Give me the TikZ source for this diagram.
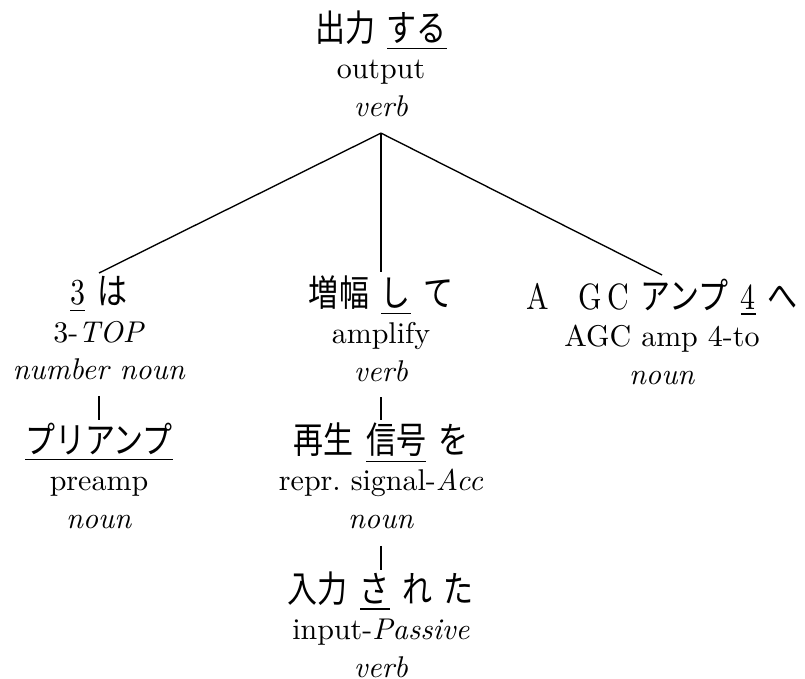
\documentclass[tikz,border=0pt]{standalone}
\usepackage{graphicx}
\usepackage{fontspec}
\newfontfamily\jp{Noto Sans CJK JP}
\newcommand{\js}{\hspace{0.4em}}
\newcommand{\tall}[1]{\scalebox{1}[1.22]{#1}}

\begin{document}
\begin{tikzpicture}[x=0.3333pt, y=-0.3333pt,
    word/.style={align=center, inner sep=0pt, anchor=north,
                 font=\fontsize{10}{12.5}\selectfont},
    arc/.style={line width=0.45pt}]
    \useasboundingbox (0,0) rectangle (805,679);

    \node[word] (shuturyoku) at (381,10) {\tall{\jp 出力\js\underline{する}}\\ output\\ \textit{verb}};

    \node[word] (sanha) at (99,276) {\tall{\underline{3}\js{\jp は}}\\ 3-\textit{TOP}\\ \textit{number noun}};
    \node[word] (zoufuku) at (381,275) {\tall{\jp 増幅\js\underline{し}\js て}\\ amplify\\ \textit{verb}};
    \node[word] (agc) at (662,278) {\tall{A\quad G\,C\js{\jp アンプ}\js\underline{4}\js{\jp へ}}\\ AGC amp 4-to\\ \textit{noun}};

    \node[word] (preamp) at (99,422) {\tall{\jp \underline{プリアンプ}}\\ preamp\\ \textit{noun}};
    \node[word] (shingou) at (381,422) {\tall{\jp 再生\js\underline{信号}\js を}\\ repr.\ signal-\textit{Acc}\\ \textit{noun}};
    \node[word] (nyuuryoku) at (381,571) {\tall{\jp 入力\js\underline{さ}\js れ\js た}\\ input-\textit{Passive}\\ \textit{verb}};

    \coordinate (fork) at ([yshift=-5.3pt]shuturyoku.south);
    \draw[arc] (fork) -- ([yshift=1pt]sanha.north);
    \draw[arc] (fork) -- ([yshift=1pt]zoufuku.north);
    \draw[arc] (fork) -- ([yshift=1pt]agc.north);

    \draw[arc] ([yshift=-5pt]sanha.south) -- ([yshift=0.5pt]preamp.north);
    \draw[arc] ([yshift=-5pt]zoufuku.south) -- ([yshift=0.5pt]shingou.north);
    \draw[arc] ([yshift=-5.5pt]shingou.south) -- ([yshift=0.5pt]nyuuryoku.north);
\end{tikzpicture}
\end{document}
